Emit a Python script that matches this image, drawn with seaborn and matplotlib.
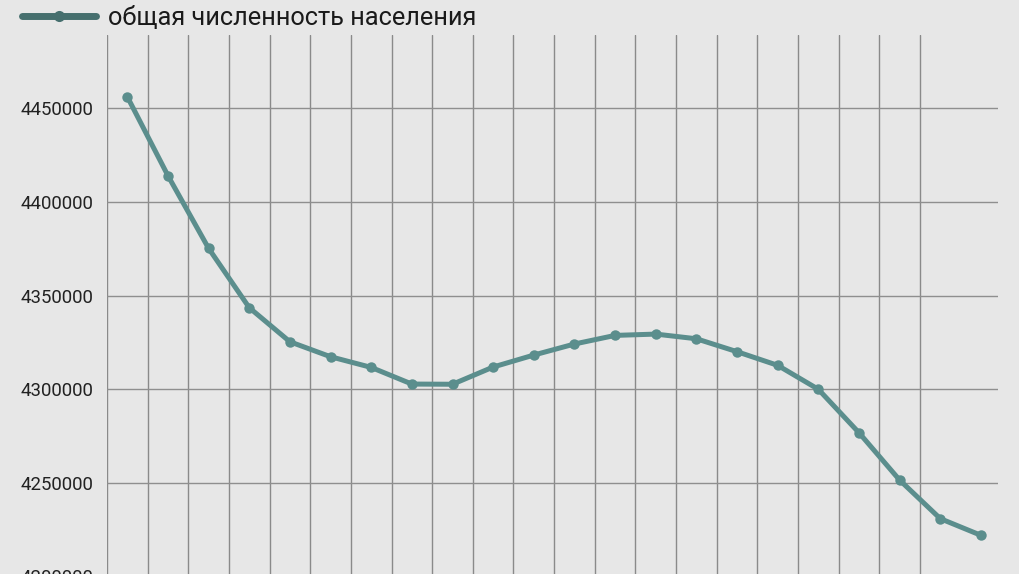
import matplotlib
matplotlib.use("Agg")
import matplotlib.pyplot as plt
import seaborn as sns
import pandas as pd
from matplotlib.lines import Line2D

# population by year (x labels fall outside the visible crop)
years = list(range(2002, 2024))
population = [4456200, 4414000, 4375200, 4343500, 4325300, 4317300, 4311600,
              4302700, 4302600, 4311800, 4318200, 4324100, 4328700, 4329400,
              4326900, 4320000, 4312700, 4299900, 4276700, 4251400, 4230800,
              4221900]
series_name = 'общая численность населения'
yticks = [4200000, 4250000, 4300000, 4350000, 4400000, 4450000]

df = pd.DataFrame({'year': years, 'value': population})

bg = '#e7e7e7'
line_col = '#5b8e8d'

sns.set_theme(style='white')
plt.rcParams['font.family'] = ['Roboto', 'DejaVu Sans']

fig = plt.figure(figsize=(10.2, 5.74), dpi=100, facecolor=bg)
# axes runs past the bottom edge, like the cropped original
ax = fig.add_axes([107/1020, -21/574, 891/1020, 560/574])
ax.set_facecolor(bg)

sns.lineplot(data=df, x='year', y='value', ax=ax, color=line_col,
             linewidth=3.6, marker='o', markersize=7.5,
             markeredgewidth=0, solid_capstyle='round')

ax.set_xlim(years[0] - 0.5, years[-1] + 0.42)
ax.set_ylim(4190000, 4489200)
ax.set_yticks(yticks)
ax.set_yticklabels([str(v) for v in yticks], fontsize=13.4, color='#222222')
ax.set_xticks([y - 0.5 for y in years[:-1]])
ax.set_xticklabels([])
ax.tick_params(axis='x', length=0)
ax.tick_params(axis='y', length=5, width=1, color='#8c8c8c', pad=5)
ax.grid(True, axis='x', color='#8a8a8a', linewidth=1)
ax.grid(True, axis='y', color='#8f8f8f', linewidth=1)
ax.set_axisbelow(True)
for s in ax.spines.values():
    s.set_visible(False)
ax.set_xlabel('')
ax.set_ylabel('')

handle = Line2D([], [], color='#466f6e', linewidth=5, marker='o',
                markersize=8, markeredgewidth=0, solid_capstyle='round')
fig.legend([handle], [series_name], loc='center left',
           bbox_to_anchor=(22/1020, 1 - 18/574), frameon=False,
           fontsize=18.3, handlelength=2.9, handletextpad=0.5,
           borderpad=0, borderaxespad=0, labelcolor='#1a1a1a')

fig.savefig('out.png', dpi=100, facecolor=bg)
